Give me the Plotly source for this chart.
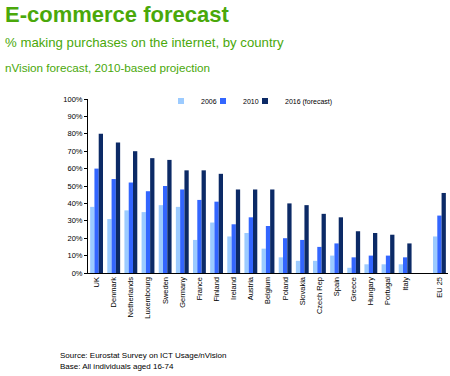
import plotly.graph_objects as go

countries = ["UK", "Denmark", "Netherlands", "Luxembourg", "Sweden", "Germany", "France",
             "Finland", "Ireland", "Austria", "Belgium", "Poland", "Slovakia", "Czech Rep",
             "Spain", "Greece", "Hungary", "Portugal", "Italy", " ", "EU 25"]
v2006 = [38, 31, 36, 35, 39, 38, 19, 29, 21, 23, 14, 9, 7, 7, 10, 3, 5, 5, 5, None, 21]
v2010 = [60, 54, 52, 47, 50, 48, 42, 41, 28, 32, 27, 20, 19, 15, 17, 9, 10, 10, 9, None, 33]
v2016 = [80, 75, 70, 66, 65, 59, 59, 57, 48, 48, 48, 40, 39, 34, 32, 24, 23, 22, 17, None, 46]
series_names = ["2006", "2010", "2016 (forecast)"]
series_colors = ["#9ccbff", "#3366ff", "#0c2a66"]
y_ticks = [0, 10, 20, 30, 40, 50, 60, 70, 80, 90, 100]
y_tick_labels = [f"{t}%" for t in y_ticks]

W, H = 450, 376
L, R, T, B = 88, 2, 99, 103
PW, PH = W - L - R, H - T - B

def px(x):
    return (x - L) / PW

def py(y):
    return 1 - (y - T) / PH

FONT = "Liberation Sans, Arial, sans-serif"
GREEN = "#4aa80a"

fig = go.Figure()
legend_ids = ["legend", "legend2", "legend3"]
for vals, name, color, lg in zip([v2006, v2010, v2016], series_names, series_colors, legend_ids):
    fig.add_trace(go.Bar(x=countries, y=vals, name=name, showlegend=False,
                         marker=dict(color=color, line=dict(width=0))))
    # legend entry with a small square swatch
    fig.add_trace(go.Scatter(x=[None], y=[None], mode="markers", name=name, legend=lg,
                             marker=dict(symbol="square", size=6, color=color),
                             showlegend=True, hoverinfo="skip"))

legend_text_x = [201, 243, 285]
legend_common = dict(orientation="h", xanchor="left", yanchor="middle", y=py(101),
                     font=dict(size=7, family=FONT, color="black"),
                     bgcolor="rgba(0,0,0,0)", itemwidth=30)
fig.update_layout(
    legend=dict(x=px(legend_text_x[0] - 40), **legend_common),
    legend2=dict(x=px(legend_text_x[1] - 40), **legend_common),
    legend3=dict(x=px(legend_text_x[2] - 40), **legend_common),
)

fig.update_layout(
    width=W, height=H,
    margin=dict(l=L, r=R, t=T, b=B),
    paper_bgcolor="white", plot_bgcolor="white",
    barmode="group", bargap=0.25, bargroupgap=0.0,
    font=dict(family=FONT, color="black"),
    showlegend=True,
    xaxis=dict(type="category", range=[-0.5, len(countries) - 0.5], showline=True,
               linecolor="black", linewidth=1, ticks="", tickangle=-90, automargin=False,
               tickfont=dict(size=7.5, family=FONT, color="black"), showgrid=False),
    yaxis=dict(range=[0, 100], tickvals=y_ticks, ticktext=y_tick_labels, showline=True,
               linecolor="black", linewidth=1, ticks="outside", ticklen=3, tickcolor="black",
               automargin=False,
               tickfont=dict(size=7.5, family=FONT, color="black"), showgrid=False, zeroline=False),
    annotations=[
        dict(text="<b>E-commerce forecast</b>", xref="paper", yref="paper", x=px(3), y=py(15),
             xanchor="left", yanchor="middle", showarrow=False,
             font=dict(size=22, color=GREEN, family=FONT)),
        dict(text="% making purchases on the internet, by country", xref="paper", yref="paper",
             x=px(3), y=py(42), xanchor="left", yanchor="middle", showarrow=False,
             font=dict(size=13.2, color=GREEN, family=FONT)),
        dict(text="nVision forecast, 2010-based projection", xref="paper", yref="paper",
             x=px(3), y=py(67), xanchor="left", yanchor="middle", showarrow=False,
             font=dict(size=11.7, color=GREEN, family=FONT)),
        dict(text="Source: Eurostat Survey on ICT Usage/nVision", xref="paper", yref="paper",
             x=px(58), y=py(355), xanchor="left", yanchor="middle", showarrow=False,
             font=dict(size=8, color="black", family=FONT)),
        dict(text="Base: All individuals aged 16-74", xref="paper", yref="paper",
             x=px(58), y=py(366), xanchor="left", yanchor="middle", showarrow=False,
             font=dict(size=8, color="black", family=FONT)),
    ],
)

fig.write_html("out.html", config={"displayModeBar": False},
               post_script="document.body.style.margin='0';document.body.style.overflow='hidden';")
